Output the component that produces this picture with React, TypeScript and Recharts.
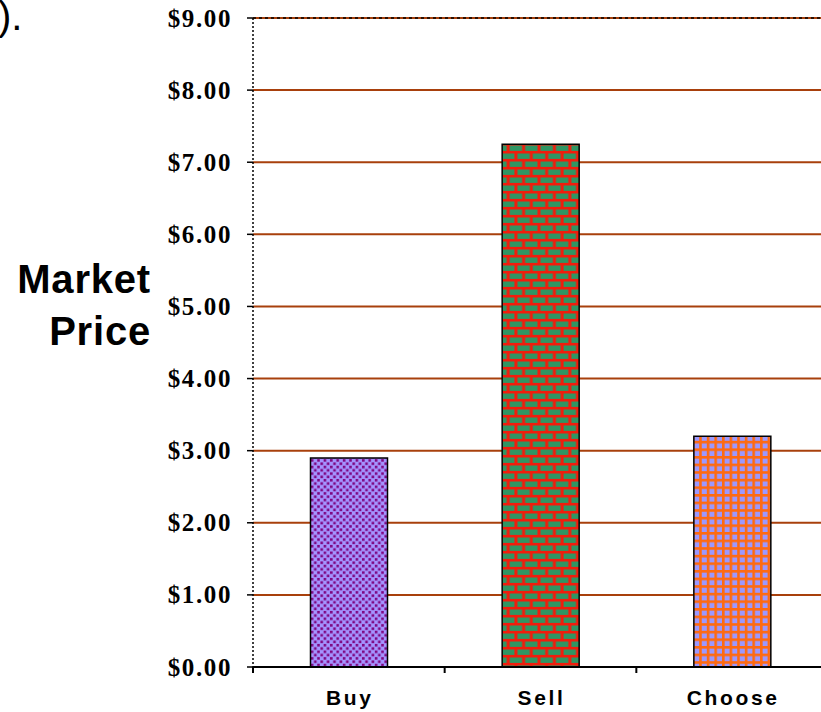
import { BarChart, Bar, Cell, XAxis, YAxis, CartesianGrid, ReferenceLine } from 'recharts';

const categories = ['Buy', 'Sell', 'Choose'];
const prices = [2.9, 7.25, 3.2];
const priceTicks = [0, 1, 2, 3, 4, 5, 6, 7, 8, 9];
const patternIds = ['patBuy', 'patSell', 'patChoose'];

const data = categories.map((name, i) => ({ name, price: prices[i] }));

const GRID = '#a8400c';

function PriceTick({ x, y, payload }: { x?: number; y?: number; payload?: { value: number } }) {
  const v = payload?.value ?? 0;
  return (
    <text
      x={(x ?? 0) + 2}
      y={y}
      dy="0.34em"
      textAnchor="end"
      fill="#000"
      style={{ fontFamily: '"Liberation Serif", "Times New Roman", serif', fontWeight: 700, fontSize: 25, letterSpacing: 1.6 }}
    >
      ${v.toFixed(2)}
    </text>
  );
}

function CategoryTick({ x, y, payload }: { x?: number; y?: number; payload?: { value: string; offset?: number } }) {
  const cx = x ?? 0;
  const half = payload?.offset ?? 95.8;
  const axisY = (y ?? 0) - 8;
  return (
    <g>
      <line x1={cx - half} x2={cx - half} y1={axisY} y2={axisY + 6} stroke="#000" strokeWidth={2} />
      <text
        x={cx + 1}
        y={axisY + 38}
        textAnchor="middle"
        fill="#000"
        style={{ fontFamily: '"Liberation Sans", Arial, sans-serif', fontWeight: 700, fontSize: 21, letterSpacing: 2.6 }}
      >
        {payload?.value}
      </text>
    </g>
  );
}

export default function App() {
  return (
    <div style={{ position: 'absolute', left: 0, top: 0, width: 821, height: 712, overflow: 'hidden', background: '#fff' }}>
      <div
        style={{
          position: 'absolute', left: -2, top: -4, fontFamily: '"Liberation Sans", Arial, sans-serif',
          fontSize: 40, lineHeight: '40px', color: '#000',
        }}
      >
        ).
      </div>
      <div
        style={{
          position: 'absolute', right: 821 - 151, top: 253, textAlign: 'right',
          fontFamily: '"Liberation Sans", Arial, sans-serif', fontWeight: 700, fontSize: 40,
          lineHeight: '52px', letterSpacing: 0.8, color: '#000',
        }}
      >
        Market<br />Price
      </div>
      <div style={{ position: 'absolute', left: 0, top: 0 }}>
        <BarChart
          width={840}
          height={712}
          data={data}
          margin={{ top: 18, right: 12, left: 0, bottom: 0 }}
          barCategoryGap="30%"
        >
          <defs>
            <pattern id="patBuy" width="6.4" height="6.6" patternUnits="userSpaceOnUse">
              <rect width="6.4" height="6.6" fill="#a494ff" />
              <rect x="0.4" y="0.4" width="2.6" height="2.6" fill="#7e0680" />
              <rect x="3.6" y="3.7" width="2.6" height="2.6" fill="#7e0680" />
            </pattern>
            <pattern id="patSell" width="15.4" height="16" patternUnits="userSpaceOnUse">
              <rect width="15.4" height="16" fill="#f21c0c" />
              <rect x="1.5" y="1.5" width="12.4" height="5.4" fill="#2f9663" />
              <rect x="-6.2" y="9.5" width="12.4" height="5.4" fill="#2f9663" />
              <rect x="9.2" y="9.5" width="12.4" height="5.4" fill="#2f9663" />
            </pattern>
            <pattern id="patChoose" width="7.6" height="7.6" patternUnits="userSpaceOnUse">
              <rect width="7.6" height="7.6" fill="#ff6a10" />
              <rect x="2.6" y="2.6" width="5" height="5" fill="#9c98ff" />
            </pattern>
          </defs>
          <CartesianGrid horizontal vertical={false} stroke={GRID} strokeWidth={2} />
          <ReferenceLine y={9} stroke="#000" strokeDasharray="3 3" strokeWidth={1.5} />
          <XAxis
            dataKey="name"
            height={45}
            axisLine={{ stroke: '#000', strokeWidth: 2 }}
            tickLine={false}
            tick={<CategoryTick />}
            interval={0}
          />
          <YAxis
            width={253}
            domain={[0, 9]}
            ticks={priceTicks}
            interval={0}
            tickSize={6}
            tickMargin={17}
            axisLine={{ stroke: '#000', strokeWidth: 1.5, strokeDasharray: '2 2' }}
            tickLine={{ stroke: '#000', strokeWidth: 1.5 }}
            tick={<PriceTick />}
          />
          <Bar dataKey="price" stroke="#000" strokeWidth={1.5} isAnimationActive={false}>
            {data.map((d, i) => (
              <Cell key={d.name} fill={`url(#${patternIds[i]})`} />
            ))}
          </Bar>
        </BarChart>
      </div>
    </div>
  );
}
